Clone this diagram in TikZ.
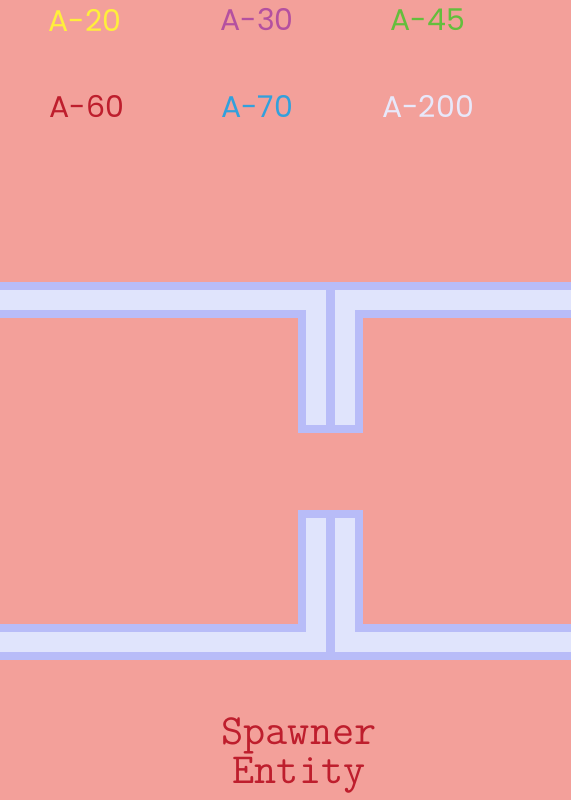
\documentclass[tikz,border=0pt]{standalone}
\usepackage{fontspec}
\usepackage{xcolor}
\usepackage{tikz}
\usetikzlibrary{positioning}
\newfontfamily\tagfont{Poppins}
\definecolor{bgsalmon}{RGB}{243,160,154}
\definecolor{pipeedge}{RGB}{184,188,248}
\definecolor{pipecore}{RGB}{224,228,252}
\definecolor{tagyellow}{RGB}{255,238,60}
\definecolor{tagpurple}{RGB}{180,80,160}
\definecolor{taggreen}{RGB}{100,190,60}
\definecolor{tagred}{RGB}{190,30,45}
\definecolor{tagblue}{RGB}{50,160,220}
\definecolor{taglilac}{RGB}{232,232,250}
\tikzset{tag/.style={inner sep=0pt,font=\tagfont\fontsize{30}{34}\selectfont},
         pipe edge/.style={line width=36pt,draw=pipeedge,line join=miter},
         pipe core/.style={line width=20pt,draw=pipecore,line join=miter},}

\begin{document}
\begin{tikzpicture}[x=1pt,y=-1pt]
    \fill[bgsalmon] (0,0) rectangle (571,800);
    \useasboundingbox (0,0) rectangle (571,800);

    % labels
    \node[tag,text=tagyellow] (a20) at (85,20) {A-20};
    \node[tag,text=tagpurple] (a30) at (257,20) {A-30};
    \node[tag,text=taggreen] (a45) at (428,20) {A-45};
    \node[tag,text=tagred] (a60) at (87,106) {A-60};
    \node[tag,text=tagblue] (a70) at (257,106) {A-70};
    \node[tag,text=taglilac] (a200) at (428,106) {A-200};

    % upper pipes
    \draw[pipe edge] (0,300) -- (316,300) -- (316,433);
    \draw[pipe edge] (571,300) -- (345,300) -- (345,433);
    \draw[pipe core] (0,300) -- (316,300) -- (316,425);
    \draw[pipe core] (571,300) -- (345,300) -- (345,425);

    % lower pipes
    \draw[pipe edge] (0,642) -- (316,642) -- (316,510);
    \draw[pipe edge] (571,642) -- (345,642) -- (345,510);
    \draw[pipe core] (0,642) -- (316,642) -- (316,518);
    \draw[pipe core] (571,642) -- (345,642) -- (345,518);

    \node[text=tagred,align=center,inner sep=0pt,font=\ttfamily\fontsize{43}{39}\selectfont] (spawner) at (299,755) {Spawner\\Entity};
\end{tikzpicture}
\end{document}
